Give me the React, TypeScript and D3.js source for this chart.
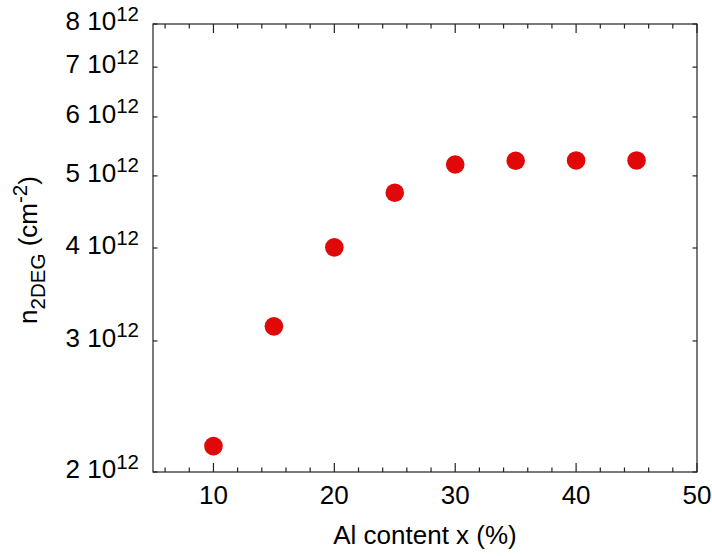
import React from "react";
import * as d3 from "d3";

// Al content (%) and sheet density n_2DEG (cm^-2)
const alContent = [10, 15, 20, 25, 30, 35, 40, 45];
const n2deg = [2.167e12, 3.139e12, 4.008e12, 4.746e12, 5.18e12, 5.24e12, 5.245e12, 5.245e12];

const xMajorTicks = [10, 20, 30, 40, 50];
const xMinorTicks = [6, 8, 12, 14, 16, 18, 22, 24, 26, 28, 32, 34, 36, 38, 42, 44, 46, 48];
const yTickMantissa = [2, 3, 4, 5, 6, 7, 8];

const W = 712;
const H = 556;
const left = 153;
const right = 697;
const top = 24;
const bottom = 472;
const font = "'Liberation Sans', Arial, Helvetica, sans-serif";
const axisColor = "#222";

export default function App() {
  const x = d3.scaleLinear().domain([5, 50]).range([left, right]);
  const y = d3.scaleLog().domain([2e12, 8e12]).range([bottom, top]);

  return (
    <svg
      width={W}
      height={H}
      style={{ position: "absolute", left: 0, top: 0, background: "#fff" }}
      fontFamily={font}
    >
      {/* frame */}
      <rect x={left} y={top} width={right - left} height={bottom - top}
        fill="none" stroke={axisColor} strokeWidth={1.2} />

      {/* x ticks, bottom and top */}
      {xMajorTicks.map((t) => (
        <g key={"xm" + t}>
          <line x1={x(t)} x2={x(t)} y1={bottom} y2={bottom - 9} stroke={axisColor} strokeWidth={1.2} />
          <line x1={x(t)} x2={x(t)} y1={top} y2={top + 9} stroke={axisColor} strokeWidth={1.2} />
          <text x={x(t)} y={504} textAnchor="middle" fontSize={26} fill="#000">{t}</text>
        </g>
      ))}
      {xMinorTicks.map((t) => (
        <g key={"xn" + t}>
          <line x1={x(t)} x2={x(t)} y1={bottom} y2={bottom - 4.5} stroke={axisColor} strokeWidth={1.2} />
          <line x1={x(t)} x2={x(t)} y1={top} y2={top + 4.5} stroke={axisColor} strokeWidth={1.2} />
        </g>
      ))}

      {/* y ticks, left and right */}
      {yTickMantissa.map((m) => {
        const yy = y(m * 1e12);
        return (
          <g key={"y" + m}>
            <line x1={left} x2={left + 4.5} y1={yy} y2={yy} stroke={axisColor} strokeWidth={1.2} />
            <line x1={right} x2={right - 4.5} y1={yy} y2={yy} stroke={axisColor} strokeWidth={1.2} />
            <text x={139} y={yy + 6} textAnchor="end" fontSize={26} fill="#000">
              {m + " 10"}
              <tspan fontSize={20.5} dy={-9.5}>12</tspan>
            </text>
          </g>
        );
      })}

      {/* data points */}
      {alContent.map((a, i) => (
        <circle key={"p" + a} cx={x(a)} cy={y(n2deg[i])} r={9.3} fill="#e00808" />
      ))}

      {/* axis titles */}
      <text x={(left + right) / 2} y={544} textAnchor="middle" fontSize={26} fill="#000">
        Al content x (%)
      </text>
      <text transform="translate(37,250) rotate(-90)" textAnchor="middle" fontSize={26} fill="#000">
        n
        <tspan fontSize={20.5} dy={8}>2DEG</tspan>
        <tspan fontSize={26} dy={-8}>{" (cm"}</tspan>
        <tspan fontSize={20.5} dy={-10}>-2</tspan>
        <tspan fontSize={26} dy={10}>)</tspan>
      </text>
    </svg>
  );
}
